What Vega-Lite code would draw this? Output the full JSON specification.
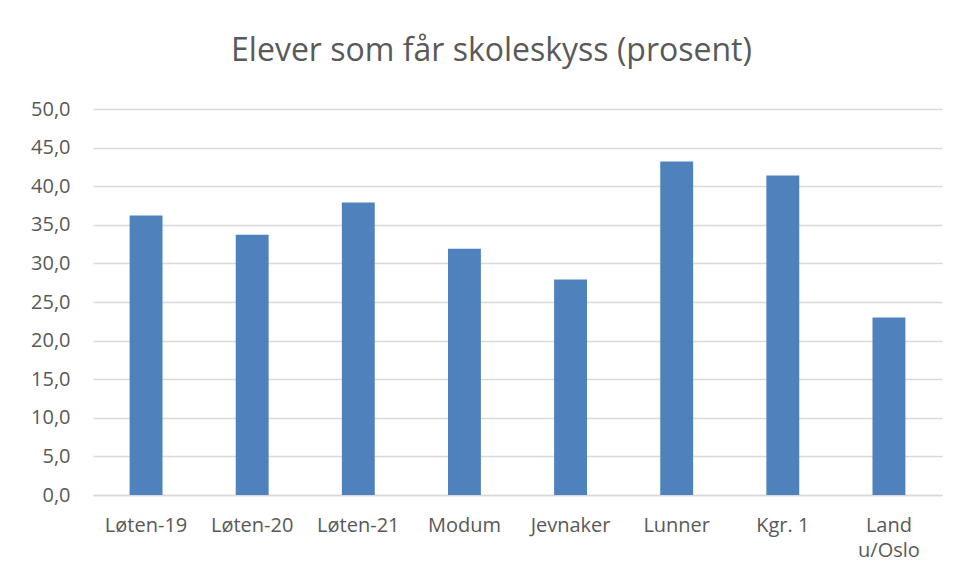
{
  "$schema": "https://vega.github.io/schema/vega-lite/v6.json",
  "autosize": {"type": "none"},
  "padding": {"left": 93, "top": 109, "right": 18, "bottom": 85},
  "width": 849,
  "height": 386,
  "background": "white",
  "title": {
    "text": "Elever som får skoleskyss (prosent)",
    "font": "Open Sans",
    "fontSize": 32,
    "fontWeight": "normal",
    "color": "#595959",
    "anchor": "middle",
    "frame": "group",
    "baseline": "alphabetic",
    "offset": 6,
    "dx": -26
  },
  "data": {
    "values": [
      {"kommune": "Løten-19", "prosent": 36.2},
      {"kommune": "Løten-20", "prosent": 33.7},
      {"kommune": "Løten-21", "prosent": 37.9},
      {"kommune": "Modum", "prosent": 31.9},
      {"kommune": "Jevnaker", "prosent": 27.9},
      {"kommune": "Lunner", "prosent": 43.2},
      {"kommune": "Kgr. 1", "prosent": 41.4},
      {"kommune": "Land u/Oslo", "prosent": 23.0}
    ]
  },
  "mark": {"type": "bar", "color": "#4F81BD"},
  "encoding": {
    "x": {
      "field": "kommune",
      "type": "nominal",
      "sort": null,
      "scale": {"paddingInner": 0.69, "paddingOuter": 0.345},
      "axis": {
        "title": null,
        "labelAngle": 0,
        "labelFont": "Open Sans",
        "labelFontSize": 20,
        "labelColor": "#595959",
        "labelPadding": 20,
        "labelLineHeight": 25,
        "labelExpr": "datum.label == 'Land u/Oslo' ? ['Land', 'u/Oslo'] : datum.label",
        "ticks": false,
        "domainColor": "#D9D9D9",
        "domainWidth": 1.5
      }
    },
    "y": {
      "field": "prosent",
      "type": "quantitative",
      "scale": {"domain": [0, 50]},
      "axis": {
        "title": null,
        "values": [0, 5, 10, 15, 20, 25, 30, 35, 40, 45, 50],
        "labelExpr": "replace(format(datum.value, '.1f'), '.', ',')",
        "labelFont": "Open Sans",
        "labelFontSize": 20,
        "labelColor": "#595959",
        "labelPadding": 23,
        "ticks": false,
        "domain": false,
        "grid": true,
        "gridColor": "#D9D9D9",
        "gridWidth": 1.5
      }
    }
  },
  "config": {"view": {"stroke": null}}
}
